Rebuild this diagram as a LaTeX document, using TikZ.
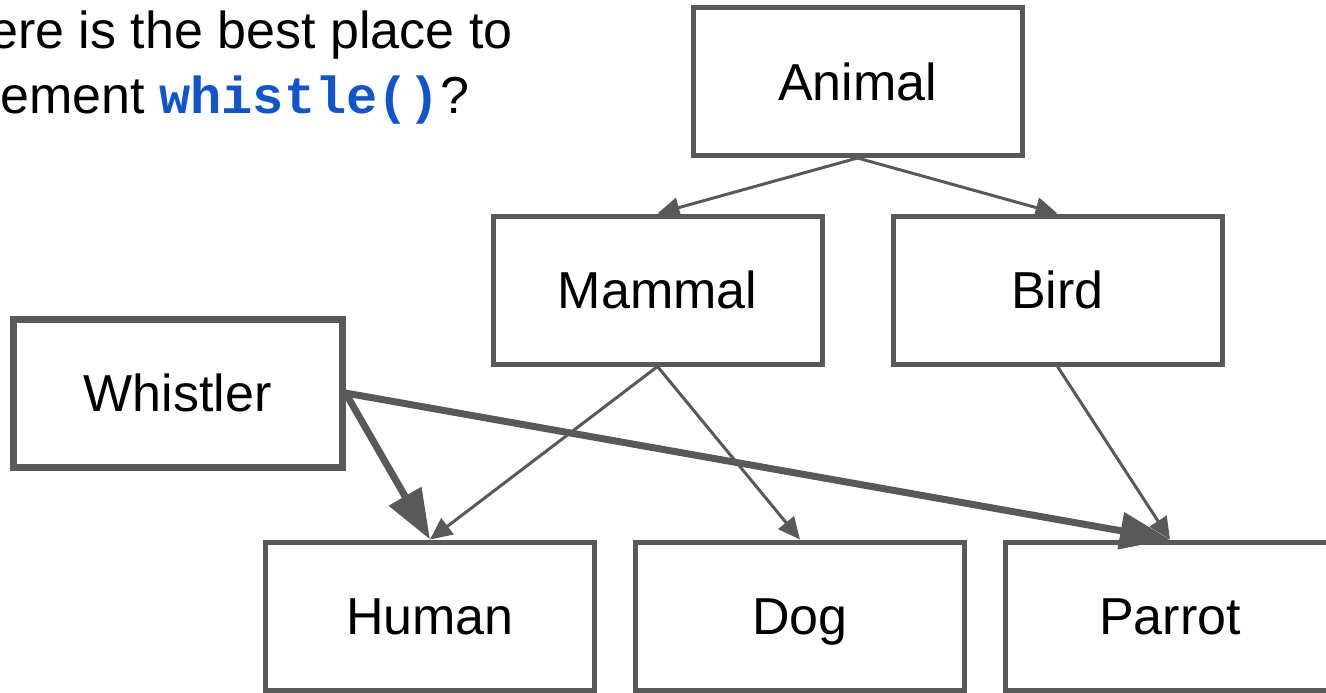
\documentclass[tikz,border=0pt]{standalone}
\usepackage{fontspec}
\setmainfont{Liberation Sans}
\setmonofont{Liberation Mono}
\usetikzlibrary{chains,arrows.meta}
\definecolor{linegray}{HTML}{595959}
\definecolor{codeblue}{HTML}{1155CC}

\begin{document}
\begin{tikzpicture}[x=0.5pt, y=-0.5pt,
    box/.style={rectangle, draw=linegray, line width=2.5pt, minimum width=164.5pt,
    minimum height=74pt, text height=18.6pt, text depth=0pt,
    font=\fontsize{26}{31}\selectfont},
    question/.style={inner sep=0pt, anchor=base west, font=\fontsize{26}{31}\selectfont},
    isa/.style={draw=linegray, line width=1.5pt, -{Triangle[length=11pt,width=10pt]}},
    mixin/.style={draw=linegray, line width=3.5pt, -{Triangle[length=25pt,width=18pt]}},
    start chain=going right, node distance=18pt]
    \useasboundingbox (0,0) rectangle (1326,692);
    \node[question] (q1) at (-11,48) {ere is the best place to};
    \node[question] (q2) at (0,113) {ement {\ttfamily\bfseries\color{codeblue}whistle()}?};
    \node[box] (Animal) at (857.5,81.5) {Animal};
    \node[box] (Mammal) at (657.5,290) {Mammal};
    \node[box] (Bird) at (1057.5,290) {Bird};
    \node[box,line width=3.5pt] (Whistler) at (177.5,393) {Whistler};
    \node[box,on chain] (Human) at (430,616) {Human};
    \node[box,on chain] (Dog) {Dog};
    \node[box,on chain] (Parrot) {Parrot};
    \draw[isa] (Animal.south) -- (Mammal.north);
    \draw[isa] (Animal.south) -- (Bird.north);
    \draw[isa] (Mammal.south) -- (Human.north);
    \draw[isa] (Mammal.south) -- (Dog.north);
    \draw[isa] (Bird.south) -- (Parrot.north);
    \draw[mixin] (Whistler.east) -- (Human.north);
    \draw[mixin] (Whistler.east) -- (Parrot.north);
\end{tikzpicture}
\end{document}
